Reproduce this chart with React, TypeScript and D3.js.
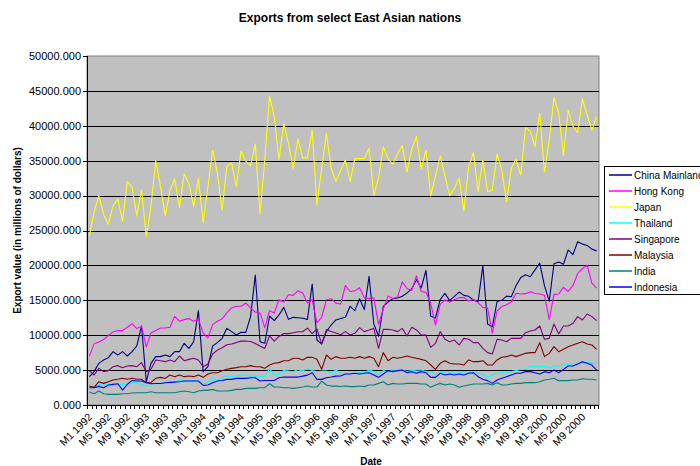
import React from "react";
import * as d3 from "d3";

// Monthly categories, January 1992 to December 2000
const years = [1992, 1993, 1994, 1995, 1996, 1997, 1998, 1999, 2000];
const monthNumbers = [1, 2, 3, 4, 5, 6, 7, 8, 9, 10, 11, 12];
const categories = years.flatMap((y) => monthNumbers.map((m) => `M${m} ${y}`));

// Export values, millions of dollars
const chinaMainland = [
  4060, 4780, 5970, 6450, 6780, 7640, 7160, 7640, 7020, 7640, 8450, 11320,
  3340, 5970, 6930, 6930, 7160, 6930, 7640, 7640, 8840, 8120, 9070, 13520,
  4780, 5490, 8450, 8930, 9550, 10980, 10510, 10030, 10410, 10410, 12660, 18630,
  9070, 8840, 12750, 12080, 12900, 13990, 12270, 12560, 12510, 12420, 12270, 17340,
  9310, 8740, 10510, 11460, 12180, 12380, 12570, 14140, 13520, 15230, 13660, 18420,
  11610, 9850, 14140, 14760, 15230, 15330, 15570, 16040, 16660, 17950, 16760, 19280,
  12710, 12470, 15090, 15990, 14950, 15570, 16180, 15710, 15570, 15040, 14810, 19960,
  11600, 11200, 14830, 15000, 15600, 15500, 17100, 18280, 18660, 18380, 19360, 20320,
  17100, 14870, 20240, 20500, 20160, 22220, 21550, 23380, 23050, 22860, 22330, 22080,
];
const hongKong = [
  7000, 8760, 9040, 9380, 9950, 10470, 10660, 10660, 11140, 11660, 10950, 11280,
  8330, 10330, 10660, 11040, 11040, 11140, 12710, 12000, 12230, 12380, 12000, 12330,
  10330, 9620, 11520, 12000, 12330, 13190, 13900, 14140, 14140, 14610, 13900, 13330,
  13190, 11040, 13520, 13190, 15090, 14760, 15800, 15710, 16370, 16040, 14610, 15090,
  11760, 12570, 15090, 15230, 14600, 14470, 17100, 16260, 16350, 16800, 15350, 15250,
  15350, 11540, 13750, 15600, 15250, 15470, 17640, 16690, 16420, 18520, 16260, 16140,
  14600, 11440, 14420, 15060, 14710, 15070, 15380, 15400, 14900, 15140, 14660, 13990,
  13880, 10300, 13450, 14110, 14350, 14750, 16000, 15900, 15950, 16210, 15970, 15900,
  15710, 12250, 15850, 15900, 16850, 16260, 17090, 18810, 19550, 20020, 17450, 16740,
];
const japan = [
  24200, 27700, 30000, 27300, 25900, 28550, 29500, 26300, 32000, 31200, 27100, 30900,
  24100, 28500, 35000, 31300, 27100, 30700, 32400, 28300, 33100, 31700, 28500, 32500,
  26100, 31300, 36500, 33200, 27900, 34200, 34700, 31300, 36400, 34900, 34300, 37400,
  27400, 35100, 44300, 41300, 35100, 40400, 37400, 33900, 38100, 35400, 35400, 39400,
  28650, 33900, 38900, 33900, 32050, 33600, 35100, 32000, 35300, 35300, 35300, 36800,
  30000, 32500, 37000, 35300, 34500, 36050, 37150, 33400, 36700, 38450, 33800, 36500,
  29950, 32800, 35700, 32800, 30000, 31000, 32500, 27800, 34150, 36150, 30600, 35100,
  30600, 30800, 35950, 33650, 29100, 33900, 35200, 32950, 39750, 39200, 37000, 41800,
  33400, 37950, 44050, 41800, 35700, 42250, 39950, 39000, 43900, 41550, 39400, 41300,
];
const thailand = [
  2710, 2480, 2950, 3050, 2950, 3050, 2950, 2950, 3050, 3190, 3190, 2950,
  2670, 3050, 3050, 3050, 3190, 3190, 3190, 3620, 3430, 3430, 3430, 3430,
  3050, 3190, 3810, 3430, 3900, 4140, 4140, 4140, 4280, 4280, 4140, 4140,
  4140, 4000, 5240, 4280, 4470, 4950, 4860, 4760, 5090, 4860, 5240, 4950,
  4760, 4860, 4860, 4630, 5010, 4540, 4440, 4540, 4540, 4630, 4630, 5010,
  4780, 4440, 4920, 4780, 5010, 4920, 5010, 4780, 4920, 5010, 5010, 4780,
  4780, 4440, 4630, 4780, 4780, 4540, 4630, 4780, 4780, 4630, 4540, 4440,
  3960, 4300, 4540, 4630, 4630, 4780, 4920, 5110, 5110, 5590, 5490, 5490,
  5590, 5250, 5590, 5590, 5730, 5870, 5870, 5970, 6070, 6070, 5970, 5970,
];
const singapore = [
  4920, 4300, 5250, 4780, 4920, 5490, 5640, 5350, 5590, 5640, 5490, 6070,
  4780, 5110, 6450, 6350, 6210, 6450, 6210, 7020, 6350, 6540, 6690, 6450,
  5490, 5870, 7300, 7860, 8200, 8630, 8750, 8940, 9150, 9170, 9100, 8820,
  8440, 8100, 9900, 9150, 9820, 10230, 10230, 10350, 10490, 10490, 11010, 10230,
  10900, 8750, 10800, 10540, 10300, 10060, 10510, 10030, 10270, 11080, 10510, 10750,
  10980, 8120, 10840, 10840, 10750, 10510, 10980, 9890, 11130, 10750, 10030, 10030,
  8260, 8840, 10510, 9410, 9070, 9310, 8600, 9550, 9410, 8930, 8930, 8120,
  7500, 7310, 9410, 9310, 9070, 9550, 9550, 9550, 10360, 10600, 10750, 11320,
  9410, 9550, 11610, 10170, 11320, 11320, 11700, 12660, 12180, 13040, 12660, 12080,
];
const malaysia = [
  2720, 2530, 3340, 3100, 3340, 3580, 3680, 3820, 3680, 3820, 3680, 3680,
  3200, 3250, 3820, 3960, 3820, 4300, 4060, 4300, 4060, 4160, 4060, 4300,
  3960, 4440, 4630, 4630, 4920, 5110, 5250, 5350, 5490, 5490, 5640, 5490,
  5490, 5250, 5730, 5970, 6070, 6350, 6350, 6690, 6690, 6450, 6830, 6830,
  6540, 5110, 7160, 6540, 6930, 6690, 6690, 6830, 6690, 6930, 6690, 6930,
  6690, 5490, 7500, 6350, 6830, 6690, 6830, 7020, 6830, 6690, 6540, 6350,
  5730, 5110, 5970, 6350, 5970, 5870, 5870, 5730, 6450, 6210, 6210, 6350,
  5730, 5730, 6450, 6830, 6930, 7160, 6930, 7160, 7400, 7500, 7500, 8930,
  6930, 7400, 8360, 7640, 7980, 8360, 8600, 8840, 9070, 8740, 8600, 7980,
];
const india = [
  1860, 1620, 2000, 1620, 1520, 1520, 1520, 1620, 1620, 1710, 1760, 1760,
  1760, 1900, 1760, 1760, 1760, 1760, 1760, 1900, 2000, 1900, 1760, 2000,
  2090, 2090, 2240, 2000, 2000, 2000, 2090, 2240, 2240, 2380, 2380, 2380,
  2480, 2480, 3050, 2570, 2570, 2480, 2480, 2380, 2480, 2570, 2710, 2570,
  2570, 3430, 2860, 2710, 2710, 2650, 2720, 2630, 2630, 2720, 2630, 2870,
  2870, 3100, 3340, 2870, 3100, 3010, 3010, 3100, 3100, 3100, 3010, 3010,
  2530, 2870, 3100, 2870, 3010, 2870, 2530, 2720, 2870, 3010, 3010, 3010,
  3100, 2870, 3200, 2870, 2870, 3010, 3100, 3100, 3200, 3200, 3200, 3340,
  3580, 3680, 3820, 3490, 3490, 3490, 3580, 3580, 3770, 3680, 3680, 3580,
];
const indonesia = [
  2480, 2480, 2670, 2480, 2860, 2950, 3050, 2140, 2950, 3520, 3430, 3430,
  3190, 3050, 3090, 3090, 3190, 3240, 3280, 3330, 3430, 3430, 3430, 3430,
  2810, 2860, 3190, 3430, 3520, 3670, 3670, 3810, 3810, 3810, 3900, 3900,
  3430, 3520, 3520, 3520, 3900, 4000, 4000, 4000, 4000, 4140, 4280, 4620,
  3670, 3670, 3900, 4000, 4140, 4160, 4440, 4440, 4540, 4440, 4540, 4630,
  4300, 3960, 4440, 4920, 4780, 4920, 5010, 4630, 4780, 4540, 4780, 4630,
  3960, 3960, 4540, 4300, 4440, 4300, 4440, 4300, 4540, 4630, 4060, 3680,
  3490, 3100, 3580, 3820, 4060, 4300, 4540, 4540, 4780, 4780, 4630, 4440,
  4780, 4630, 5010, 4630, 5110, 5590, 5590, 5870, 6210, 5970, 5730, 5010,
];

const seriesNames = [
  "China Mainland",
  "Hong Kong",
  "Japan",
  "Thailand",
  "Singapore",
  "Malaysia",
  "India",
  "Indonesia",
];
const seriesValues = [chinaMainland, hongKong, japan, thailand, singapore, malaysia, india, indonesia];
const seriesColors = ["#000080", "#FF00FF", "#FFFF00", "#00FFFF", "#800080", "#800000", "#008080", "#0000FF"];

const yTickValues = [0, 5000, 10000, 15000, 20000, 25000, 30000, 35000, 40000, 45000, 50000];

const W = 700;
const H = 466;
const plot = { left: 87, right: 599, top: 56, bottom: 405 };
const FONT = "Arial, 'Liberation Sans', Helvetica, sans-serif";

export default function App() {
  const x = d3
    .scaleBand<string>()
    .domain(categories)
    .range([plot.left, plot.right])
    .paddingInner(0)
    .paddingOuter(0);
  const y = d3.scaleLinear().domain([0, 50000]).range([plot.bottom, plot.top]);
  const cx = (c: string) => (x(c) as number) + x.bandwidth() / 2;

  const line = d3
    .line<number>()
    .x((_, i) => cx(categories[i]))
    .y((v) => y(v));

  const fmt = d3.format(".3f");
  const legendX = 604;
  const legendY = 166;
  const legendStep = 16;

  return (
    <svg
      width={W}
      height={H}
      viewBox={`0 0 ${W} ${H}`}
      style={{ position: "absolute", left: 0, top: 0, display: "block", background: "#ffffff" }}
      fontFamily={FONT}
    >
      <rect x={0} y={0} width={W} height={H} fill="#ffffff" />

      <text x={W / 2} y={22} textAnchor="middle" fontSize={12} fontWeight="bold" fill="#000">
        Exports from select East Asian nations
      </text>

      {/* plot area */}
      <rect
        x={plot.left}
        y={plot.top}
        width={plot.right - plot.left}
        height={plot.bottom - plot.top}
        fill="#C0C0C0"
        stroke="#808080"
        strokeWidth={1}
      />

      {/* horizontal gridlines */}
      {yTickValues
        .filter((v) => v > 0 && v < 50000)
        .map((v) => (
          <line
            key={`g${v}`}
            x1={plot.left}
            x2={plot.right}
            y1={Math.round(y(v)) + 0.5}
            y2={Math.round(y(v)) + 0.5}
            stroke="#000"
            strokeWidth={1}
          />
        ))}

      {/* series */}
      {seriesValues.map((vals, k) => (
        <path
          key={seriesNames[k]}
          d={line(vals) || ""}
          fill="none"
          stroke={seriesColors[k]}
          strokeWidth={1.1}
          strokeLinejoin="round"
        />
      ))}

      {/* y axis */}
      <line x1={plot.left + 0.5} x2={plot.left + 0.5} y1={plot.top} y2={plot.bottom} stroke="#000" />
      {yTickValues.map((v) => (
        <g key={`yt${v}`}>
          <line
            x1={plot.left - 4}
            x2={plot.left}
            y1={Math.round(y(v)) + 0.5}
            y2={Math.round(y(v)) + 0.5}
            stroke="#000"
          />
          <text x={plot.left - 6} y={y(v)} dy="0.35em" textAnchor="end" fontSize={11} fill="#000">
            {fmt(v)}
          </text>
        </g>
      ))}

      {/* x axis */}
      <line x1={plot.left} x2={plot.right} y1={plot.bottom + 0.5} y2={plot.bottom + 0.5} stroke="#000" />
      {categories.map((c) => (
        <line
          key={`xt${c}`}
          x1={Math.round(x(c) as number) + 0.5}
          x2={Math.round(x(c) as number) + 0.5}
          y1={plot.bottom}
          y2={plot.bottom + 4}
          stroke="#000"
        />
      ))}
      <line
        x1={plot.right - 0.5}
        x2={plot.right - 0.5}
        y1={plot.bottom}
        y2={plot.bottom + 4}
        stroke="#000"
      />
      {categories.map((c, i) =>
        i % 4 === 0 ? (
          <text
            key={`xl${c}`}
            transform={`translate(${cx(c) + 1},${plot.bottom + 10}) rotate(-45)`}
            textAnchor="end"
            dy="0.35em"
            fontSize={10.5}
            fill="#000"
          >
            {c}
          </text>
        ) : null
      )}

      {/* axis titles */}
      <text x={371} y={465} textAnchor="middle" fontSize={10} fontWeight="bold" fill="#000">
        Date
      </text>
      <text
        transform={`translate(21,${(plot.top + plot.bottom) / 2}) rotate(-90)`}
        textAnchor="middle"
        fontSize={10}
        fontWeight="bold"
        fill="#000"
      >
        Export value (in millions of dollars)
      </text>

      {/* legend */}
      <rect
        x={legendX + 0.5}
        y={legendY + 0.5}
        width={140}
        height={legendStep * seriesNames.length}
        fill="#ffffff"
        stroke="#000"
      />
      {seriesNames.map((name, k) => {
        const ly = legendY + 9 + k * legendStep;
        return (
          <g key={`lg${name}`}>
            <line x1={legendX + 5} x2={legendX + 28} y1={ly} y2={ly} stroke={seriesColors[k]} strokeWidth={1.5} />
            <text x={legendX + 30} y={ly} dy="0.35em" fontSize={10} fill="#000">
              {name}
            </text>
          </g>
        );
      })}
    </svg>
  );
}
